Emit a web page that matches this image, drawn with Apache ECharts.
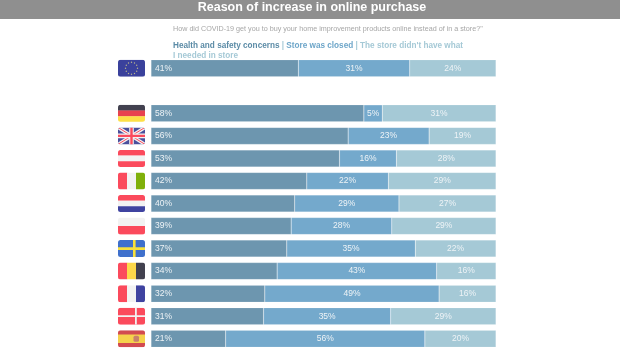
<!DOCTYPE html>
<html>
<head>
<meta charset="utf-8">
<style>
  html, body { margin: 0; padding: 0; background: #fff; }
  #chart { width: 620px; height: 350px; }
</style>
<script src="https://cdn.jsdelivr.net/npm/echarts@6/dist/echarts.min.js"></script>
</head>
<body>
<div id="chart"></div>
<script>
// the blank entry is the gap under the EU row
const countries = ['eu', 'gap', 'de', 'uk', 'at', 'it', 'nl', 'pl', 'se', 'be', 'fr', 'dk', 'es']
const healthValues = [41, null, 58, 56, 53, 42, 40, 39, 37, 34, 32, 31, 21]
const closedValues = [31, null, 5, 23, 16, 22, 29, 28, 35, 43, 49, 35, 56]
const notInStoreValues = [24, null, 31, 19, 28, 29, 27, 29, 22, 16, 16, 29, 20]

const RED = '#fb4a5c'
const WHITE = '#f2f2f2'
const BLUE = '#3f43a0'

const stripesH = (colors) => colors.map((c, i) =>
  `<rect x="0" y="${(i * 17) / colors.length}" width="27" height="${17 / colors.length + 0.2}" fill="${c}"/>`).join('')
const stripesV = (colors) => colors.map((c, i) =>
  `<rect x="${(i * 27) / colors.length}" y="0" width="${27 / colors.length + 0.2}" height="17" fill="${c}"/>`).join('')

const euStars = Array.from({ length: 12 }, (_, i) => {
  const a = (i * Math.PI) / 6
  return `<circle cx="${13.5 + 6 * Math.sin(a)}" cy="${8.5 + 6 * Math.cos(a)}" r="0.7" fill="#b9b48c"/>`
}).join('')

const flagShapes = {
  eu: `<rect width="27" height="17" fill="#3a419c"/>${euStars}`,
  de: stripesH(['#42414f', '#e8434f', '#fde047']),
  uk: `<rect width="27" height="17" fill="#4a4f9c"/>
    <path d="M0 0L27 17M27 0L0 17" stroke="#f2f2f2" stroke-width="3.4"/>
    <path d="M0 0L27 17M27 0L0 17" stroke="${RED}" stroke-width="1"/>
    <path d="M13.5 0V17M0 8.5H27" stroke="#f2f2f2" stroke-width="4.6"/>
    <path d="M13.5 0V17M0 8.5H27" stroke="${RED}" stroke-width="2.4"/>`,
  at: stripesH([RED, WHITE, RED]),
  it: stripesV([RED, WHITE, '#7fb00a']),
  nl: stripesH([RED, WHITE, BLUE]),
  pl: stripesH([WHITE, RED]),
  se: `<rect width="27" height="17" fill="#3f70cc"/>
    <rect x="15" width="2.6" height="17" fill="#f7e03c"/>
    <rect y="7.2" width="27" height="2.6" fill="#f7e03c"/>`,
  be: stripesV([RED, '#fdd84a', '#42414f']),
  fr: stripesV([RED, WHITE, BLUE]),
  dk: `<rect width="27" height="17" fill="${RED}"/>
    <rect x="17" width="1.8" height="17" fill="#f2f2f2"/>
    <rect y="7.6" width="27" height="1.8" fill="#f2f2f2"/>`,
  es: `<rect width="27" height="17" fill="#d24b50"/>
    <rect y="4.2" width="27" height="8.6" fill="#f5d24c"/>
    <rect x="15.5" y="5.5" width="5.5" height="6" rx="1.5" fill="#c8806c"/>`,
}

const flagImage = (code) => {
  const svg = `<svg xmlns="http://www.w3.org/2000/svg" width="27" height="17"><defs><clipPath id="c"><rect width="27" height="17" rx="2.5"/></clipPath></defs><g clip-path="url(#c)">${flagShapes[code]}</g></svg>`
  return 'data:image/svg+xml;charset=utf-8,' + encodeURIComponent(svg)
}

const flagRich = {}
countries.forEach((code) => {
  if (code !== 'gap') {
    flagRich[code] = { width: 27, height: 17, backgroundColor: { image: flagImage(code) } }
  }
})

// bars fill the full width, so each answer is drawn as its share of the row total
const shares = (values) => values.map((v, i) => {
  if (v === null) return null
  return (v / (healthValues[i] + closedValues[i] + notInStoreValues[i])) * 100
})

const makeSeries = (name, values, color, position, distance) => ({
  name,
  type: 'bar',
  stack: 'total',
  barWidth: 17,
  data: shares(values),
  itemStyle: { color, borderColor: 'rgba(255,255,255,0.25)', borderWidth: 0.5 },
  label: {
    show: true,
    position,
    distance,
    color: '#eef3f6',
    fontFamily: 'Liberation Sans',
    fontSize: 8.5,
    formatter: (p) => (values[p.dataIndex] === null ? '' : `${values[p.dataIndex]}%`),
  },
})

const chart = echarts.init(document.getElementById('chart'))

chart.setOption({
  animation: false,
  backgroundColor: '#fff',
  graphic: [
    { type: 'rect', z: 0, shape: { x: 0, y: 0, width: 620, height: 19 }, style: { fill: '#8f8f8f' } },
  ],
  title: [
    {
      text: 'Reason of increase in online purchase',
      left: 312,
      top: 0.5,
      padding: 0,
      textAlign: 'center',
      textStyle: { color: '#fff', fontFamily: 'Liberation Sans', fontSize: 12.5, fontWeight: 'bold', lineHeight: 15 },
    },
    {
      text: 'How did COVID-19 get you to buy your home improvement products online instead of in a store?"',
      left: 173,
      top: 24,
      padding: 0,
      textStyle: { color: '#a6a6a6', fontFamily: 'Liberation Sans', fontSize: 7.2, fontWeight: 'normal', lineHeight: 11 },
    },
    {
      text: '{a|Health and safety concerns} {s|| }{b|Store was closed} {s|| }{c|The store didn\'t have what}\n{c|I needed in store}',
      left: 173,
      top: 40.5,
      padding: 0,
      z: 10,
      textStyle: {
        fontFamily: 'Liberation Sans',
        fontSize: 8.2,
        lineHeight: 10,
        rich: {
          a: { color: '#5b8ba6', fontWeight: 'bold', fontSize: 8.2, fontFamily: 'Liberation Sans' },
          b: { color: '#6ea6c9', fontWeight: 'bold', fontSize: 8.2, fontFamily: 'Liberation Sans' },
          c: { color: '#a5c9d6', fontWeight: 'bold', fontSize: 8.2, fontFamily: 'Liberation Sans' },
          s: { color: '#a5c9d6', fontSize: 8.2, fontFamily: 'Liberation Sans' },
        },
      },
    },
  ],
  grid: { left: 151, top: 57, width: 345, height: 297.7 },
  xAxis: { type: 'value', min: 0, max: 100, show: false },
  yAxis: {
    type: 'category',
    inverse: true,
    data: countries,
    axisLine: { show: false },
    axisTick: { show: false },
    axisLabel: {
      margin: 6,
      interval: 0,
      formatter: (code) => (code === 'gap' ? '' : `{${code}|}`),
      rich: flagRich,
    },
  },
  series: [
    makeSeries('Health and safety concerns', healthValues, '#6d96af', 'insideLeft', 4),
    makeSeries('Store was closed', closedValues, '#74a9cc', 'inside'),
    makeSeries("The store didn't have what I needed in store", notInStoreValues, '#a5c9d6', 'inside'),
  ],
})
</script>
</body>
</html>
